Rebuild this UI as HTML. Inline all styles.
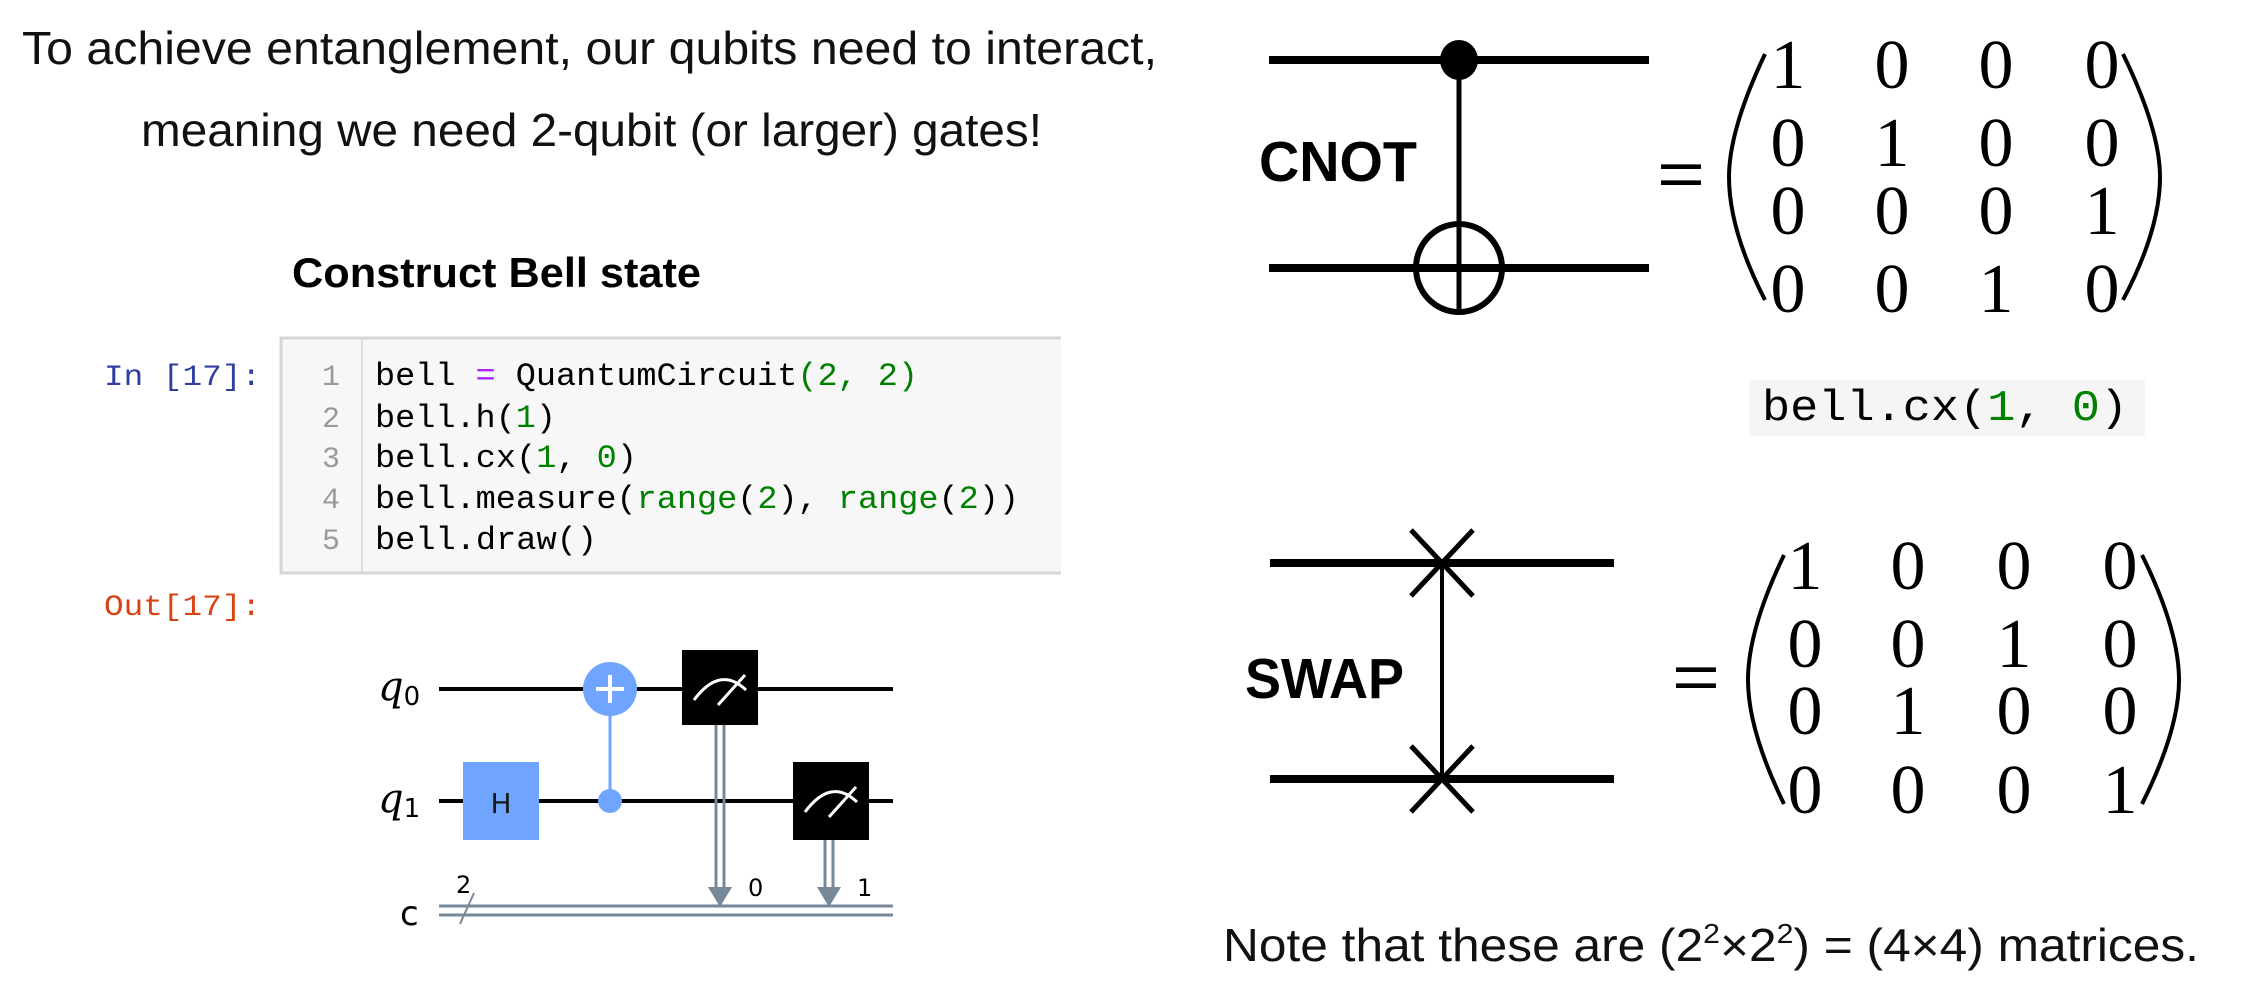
<!DOCTYPE html>
<html><head><meta charset="utf-8"><style>
html,body{margin:0;padding:0;background:#fff;}
svg{display:block;}
.s{font-family:"Liberation Sans",sans-serif;}
.m{font-family:"Liberation Mono",monospace;}
.r{font-family:"Liberation Serif",serif;}
</style></head><body>
<svg width="2242" height="984" viewBox="0 0 2242 984" xmlns="http://www.w3.org/2000/svg">
<rect width="2242" height="984" fill="#fff"/>
<text class="s" x="22" y="64" font-size="46" textLength="1135" lengthAdjust="spacingAndGlyphs" fill="#111">To achieve entanglement, our qubits need to interact,</text>
<text class="s" x="141" y="146" font-size="46" textLength="901" lengthAdjust="spacingAndGlyphs" fill="#111">meaning we need 2-qubit (or larger) gates!</text>
<text class="s" x="292" y="287" font-size="42" font-weight="bold" textLength="409" lengthAdjust="spacingAndGlyphs" fill="#000">Construct Bell state</text>
<rect x="281" y="338" width="780" height="235" fill="#f7f7f7"/>
<path d="M1061 338 H281 V573 H1061" fill="none" stroke="#d6d6d6" stroke-width="3"/>
<line x1="362" y1="339" x2="362" y2="572" stroke="#dddddd" stroke-width="2"/>
<text class="m" x="104" y="385" font-size="30" fill="#303f9f" textLength="157" lengthAdjust="spacingAndGlyphs">In [17]:</text>
<g class="m" font-size="30" fill="#999">
<text x="322" y="385">1</text><text x="322" y="427">2</text><text x="322" y="467">3</text><text x="322" y="508">4</text><text x="322" y="549">5</text>
</g>
<g class="m" font-size="32" fill="#000">
<text x="375" y="385" textLength="543" lengthAdjust="spacingAndGlyphs">bell <tspan fill="#aa22ff">=</tspan> QuantumCircuit<tspan fill="#008000">(2, 2)</tspan></text>
<text x="375" y="427" textLength="181" lengthAdjust="spacingAndGlyphs">bell.h(<tspan fill="#008000">1</tspan>)</text>
<text x="375" y="467" textLength="262" lengthAdjust="spacingAndGlyphs">bell.cx(<tspan fill="#008000">1</tspan>, <tspan fill="#008000">0</tspan>)</text>
<text x="375" y="508" textLength="644" lengthAdjust="spacingAndGlyphs">bell.measure(<tspan fill="#008000">range</tspan>(<tspan fill="#008000">2</tspan>), <tspan fill="#008000">range</tspan>(<tspan fill="#008000">2</tspan>))</text>
<text x="375" y="549" textLength="222" lengthAdjust="spacingAndGlyphs">bell.draw()</text>
</g>
<text class="m" x="104" y="615" font-size="30" fill="#d84315" textLength="157" lengthAdjust="spacingAndGlyphs">Out[17]:</text>
<g>
<line x1="439" y1="689" x2="893" y2="689" stroke="#000" stroke-width="4"/>
<line x1="439" y1="801" x2="893" y2="801" stroke="#000" stroke-width="4"/>
<line x1="439" y1="906" x2="893" y2="906" stroke="#778899" stroke-width="3"/>
<line x1="439" y1="915" x2="893" y2="915" stroke="#778899" stroke-width="3"/>
<line x1="460" y1="924" x2="474" y2="893" stroke="#778899" stroke-width="2"/>
<text x="456" y="893" font-family="DejaVu Sans,sans-serif" font-size="24" fill="#000">2</text>
<text x="400" y="925" font-family="DejaVu Sans,sans-serif" font-size="34" fill="#000">c</text>
<text x="378" y="700" font-family="DejaVu Serif,serif" font-style="italic" font-size="40" fill="#000">q<tspan font-family="DejaVu Sans,sans-serif" font-size="26" font-style="normal" dy="5">0</tspan></text>
<text x="378" y="812" font-family="DejaVu Serif,serif" font-style="italic" font-size="40" fill="#000">q<tspan font-family="DejaVu Sans,sans-serif" font-size="26" font-style="normal" dy="5">1</tspan></text>
<rect x="463" y="762" width="76" height="78" fill="#6fa4ff"/>
<text x="501" y="813" text-anchor="middle" font-family="DejaVu Sans,sans-serif" font-size="28" fill="#1a1a1a">H</text>
<line x1="610" y1="689" x2="610" y2="801" stroke="#6fa4ff" stroke-width="3"/>
<circle cx="610" cy="801" r="12" fill="#6fa4ff"/>
<circle cx="610" cy="689" r="27" fill="#6fa4ff"/>
<line x1="596" y1="689" x2="624" y2="689" stroke="#fff" stroke-width="4"/>
<line x1="610" y1="675" x2="610" y2="703" stroke="#fff" stroke-width="4"/>
<rect x="682" y="650" width="76" height="75" fill="#000"/>
<path d="M694 700 Q720 665 746 690" fill="none" stroke="#fff" stroke-width="3"/>
<line x1="718" y1="705" x2="745" y2="675" stroke="#fff" stroke-width="3"/>
<rect x="793" y="762" width="76" height="78" fill="#000"/>
<path d="M805 812 Q831 777 857 802" fill="none" stroke="#fff" stroke-width="3"/>
<line x1="829" y1="817" x2="856" y2="787" stroke="#fff" stroke-width="3"/>
<line x1="716" y1="725" x2="716" y2="890" stroke="#778899" stroke-width="3"/>
<line x1="724" y1="725" x2="724" y2="890" stroke="#778899" stroke-width="3"/>
<polygon points="708,887 732,887 720,907" fill="#778899"/>
<line x1="825" y1="840" x2="825" y2="890" stroke="#778899" stroke-width="3"/>
<line x1="833" y1="840" x2="833" y2="890" stroke="#778899" stroke-width="3"/>
<polygon points="817,887 841,887 829,907" fill="#778899"/>
<text x="748" y="896" font-family="DejaVu Sans,sans-serif" font-size="24" fill="#000">0</text>
<text x="857" y="896" font-family="DejaVu Sans,sans-serif" font-size="24" fill="#000">1</text>
</g>
<line x1="1269" y1="60" x2="1649" y2="60" stroke="#000" stroke-width="8"/>
<line x1="1269" y1="268" x2="1649" y2="268" stroke="#000" stroke-width="8"/>
<line x1="1459" y1="60" x2="1459" y2="313" stroke="#000" stroke-width="5"/>
<ellipse cx="1459" cy="60" rx="19" ry="20" fill="#000"/>
<ellipse cx="1459" cy="268" rx="43" ry="44" fill="none" stroke="#000" stroke-width="6"/>
<text class="s" x="1259" y="181" font-size="57" font-weight="bold" textLength="158" lengthAdjust="spacingAndGlyphs">CNOT</text>
<text class="s" x="1657" y="196" font-size="64" textLength="48" lengthAdjust="spacingAndGlyphs">=</text>
<path d="M1765 54 Q1729 130 1729 177 Q1729 230 1765 300" fill="none" stroke="#000" stroke-width="4"/>
<path d="M2123 54 Q2160 130 2160 177 Q2160 230 2123 300" fill="none" stroke="#000" stroke-width="4"/>
<g class="r" font-size="70" text-anchor="middle" fill="#000">
<text x="1788" y="88">1</text><text x="1892" y="88">0</text><text x="1996" y="88">0</text><text x="2102" y="88">0</text>
<text x="1788" y="166">0</text><text x="1892" y="166">1</text><text x="1996" y="166">0</text><text x="2102" y="166">0</text>
<text x="1788" y="234">0</text><text x="1892" y="234">0</text><text x="1996" y="234">0</text><text x="2102" y="234">1</text>
<text x="1788" y="312">0</text><text x="1892" y="312">0</text><text x="1996" y="312">1</text><text x="2102" y="312">0</text>
</g>
<rect x="1749" y="380" width="396" height="56" fill="#f5f5f5"/>
<text x="1762" y="420" font-family="Liberation Mono,monospace" font-size="44" textLength="366" lengthAdjust="spacingAndGlyphs" fill="#000">bell.cx(<tspan fill="#008000">1</tspan>, <tspan fill="#008000">0</tspan>)</text>
<line x1="1270" y1="563" x2="1614" y2="563" stroke="#000" stroke-width="8"/>
<line x1="1270" y1="779" x2="1614" y2="779" stroke="#000" stroke-width="8"/>
<line x1="1442" y1="563" x2="1442" y2="779" stroke="#000" stroke-width="4"/>
<line x1="1411" y1="530" x2="1473" y2="596" stroke="#000" stroke-width="5"/>
<line x1="1473" y1="530" x2="1411" y2="596" stroke="#000" stroke-width="5"/>
<line x1="1411" y1="746" x2="1473" y2="812" stroke="#000" stroke-width="5"/>
<line x1="1473" y1="746" x2="1411" y2="812" stroke="#000" stroke-width="5"/>
<text class="s" x="1245" y="698" font-size="57" font-weight="bold" textLength="159" lengthAdjust="spacingAndGlyphs">SWAP</text>
<text class="s" x="1672" y="699" font-size="64" textLength="48" lengthAdjust="spacingAndGlyphs">=</text>
<path d="M1784 555 Q1748 630 1748 680 Q1748 730 1784 804" fill="none" stroke="#000" stroke-width="4"/>
<path d="M2142 555 Q2179 630 2179 680 Q2179 730 2142 804" fill="none" stroke="#000" stroke-width="4"/>
<g class="r" font-size="70" text-anchor="middle" fill="#000">
<text x="1805" y="589">1</text><text x="1908" y="589">0</text><text x="2014" y="589">0</text><text x="2120" y="589">0</text>
<text x="1805" y="667">0</text><text x="1908" y="667">0</text><text x="2014" y="667">1</text><text x="2120" y="667">0</text>
<text x="1805" y="734">0</text><text x="1908" y="734">1</text><text x="2014" y="734">0</text><text x="2120" y="734">0</text>
<text x="1805" y="813">0</text><text x="1908" y="813">0</text><text x="2014" y="813">0</text><text x="2120" y="813">1</text>
</g>
<text class="s" x="1223" y="961" font-size="46" textLength="976" lengthAdjust="spacingAndGlyphs" fill="#111">Note that these are (2<tspan font-size="28" dy="-18">2</tspan><tspan dy="18">×2</tspan><tspan font-size="28" dy="-18">2</tspan><tspan dy="18">) = (4×4) matrices.</tspan></text>
</svg>
</body></html>
